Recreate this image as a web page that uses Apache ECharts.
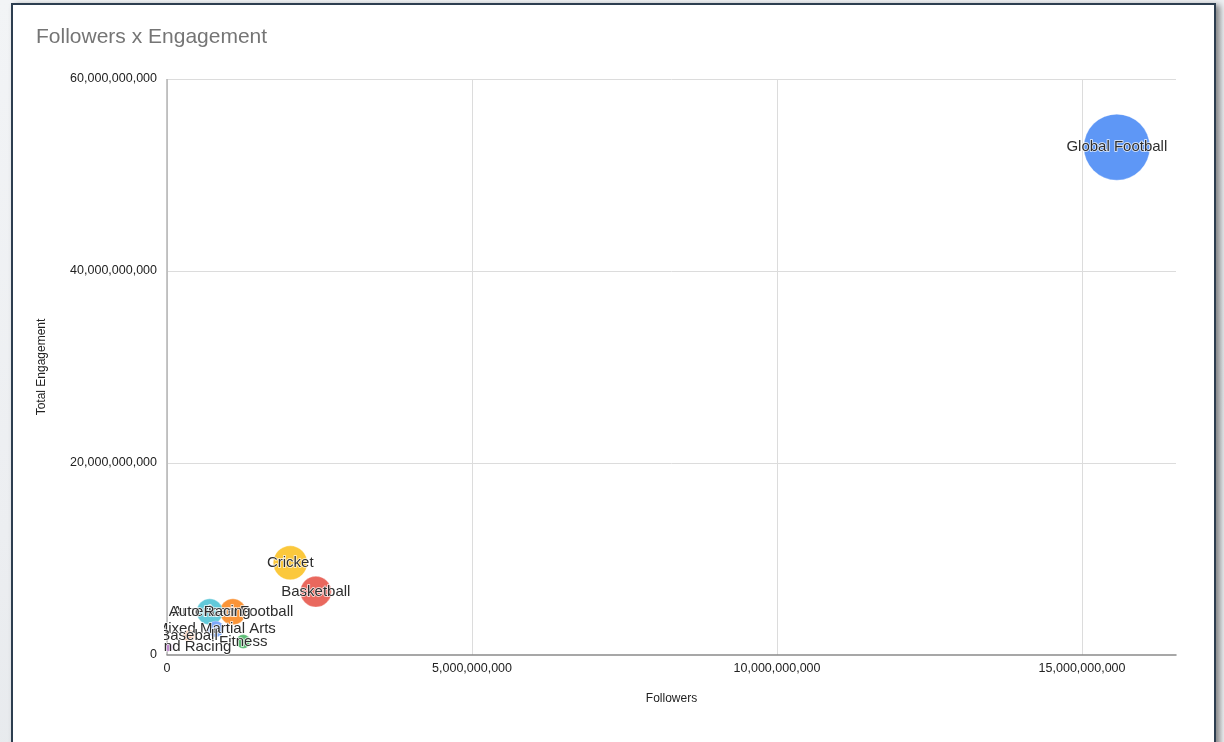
<!DOCTYPE html>
<html>
<head>
<meta charset="utf-8">
<title>Followers x Engagement</title>
<script src="https://cdn.jsdelivr.net/npm/echarts@6/dist/echarts.min.js"></script>
<style>
  html, body { margin: 0; padding: 0; width: 1224px; height: 742px; overflow: hidden; }
  body {
    background: linear-gradient(160deg, #f2f4f6 0%, #eceef1 45%, #e6e9ec 70%, #f0f2f4 100%);
    position: relative;
  }
  #card {
    position: absolute; left: 11px; top: 3px; width: 1201px; height: 780px;
    background: #ffffff; border: 2.5px solid #2d3e50;
    box-shadow: 4px 2px 6px rgba(0, 0, 0, 0.45);
  }
  #chart { position: absolute; left: 0; top: 0; width: 1224px; height: 742px; }
</style>
</head>
<body>
<div id="card"></div>
<div id="chart"></div>
<script>
// Sports categories plotted by follower count vs. total engagement
// (later entries are drawn on top)
const sports = [
  'Global Football', 'Cricket', 'Basketball', 'American Football', 'Auto Racing',
  'Mixed Martial Arts', 'Baseball', 'Fitness', 'Greyhound Racing'
];
const followers = [
  15.57e9, 2.02e9, 2.44e9, 1.08e9, 0.70e9,
  0.80e9, 0.36e9, 1.25e9, 0.03e9
];
const engagement = [
  52.9e9, 9.6e9, 6.6e9, 4.5e9, 4.5e9,
  2.7e9, 2.0e9, 1.4e9, 0.8e9
];
// relative audience weight, drives bubble area
const audience = [100, 26.5, 22, 15.5, 15.5, 6, 3.3, 4.5, 1.5];
const bubbleColors = [
  '#5e97f6', '#fbc83c', '#e9685e', '#fa9438', '#62c9d9',
  '#7ea9f9', '#f7b792', '#5fbe78', '#c28ad0'
];
const yTicks = [0, 20e9, 40e9, 60e9];
const xTicks = [0, 5e9, 10e9, 15e9];

const fontFamily = 'Arial, "Liberation Sans", sans-serif';
const fmt = v => Math.round(v).toLocaleString('en-US');

const points = sports.map((name, i) => ({
  name,
  value: [followers[i], engagement[i], audience[i]],
  itemStyle: { color: bubbleColors[i] }
}));

const chart = echarts.init(document.getElementById('chart'), null, { renderer: 'canvas' });
chart.setOption({
  backgroundColor: 'transparent',
  animation: false,
  title: {
    text: 'Followers x Engagement',
    left: 36, top: 27, padding: 0,
    textStyle: { fontFamily, fontSize: 21, fontWeight: 'normal', color: '#757575' }
  },
  grid: { left: 167, right: 48, top: 79, bottom: 87, containLabel: false },
  xAxis: {
    type: 'value',
    min: xTicks[0], max: 16.54e9, interval: xTicks[1] - xTicks[0],
    name: 'Followers', nameLocation: 'middle', nameGap: 38,
    nameTextStyle: { fontFamily, fontSize: 12, color: '#222' },
    axisLine: { show: true, lineStyle: { color: '#8a8a8a', width: 1.5 } },
    axisTick: { show: false },
    axisLabel: { fontFamily, fontSize: 12.5, color: '#222', margin: 7, showMaxLabel: false, formatter: fmt },
    splitLine: { show: true, showMaxLine: false, lineStyle: { color: '#dcdcdc', width: 1 } }
  },
  yAxis: {
    type: 'value',
    z: 60,
    min: yTicks[0], max: yTicks[yTicks.length - 1], interval: yTicks[1] - yTicks[0],
    name: 'Total Engagement', nameLocation: 'middle', nameGap: 119, nameRotate: 90,
    nameTextStyle: { fontFamily, fontSize: 12, color: '#222' },
    axisLine: { show: false },
    axisTick: { show: false },
    axisLabel: { fontFamily, fontSize: 12.5, color: '#222', margin: 10, formatter: fmt },
    splitLine: { show: false }
  },
  // gridlines and the vertical axis line sit underneath the bubbles
  series: [{
    type: 'scatter',
    data: points,
    symbolSize: d => 66 * Math.sqrt(d[2] / 100),
    itemStyle: { opacity: 1, borderColor: 'rgba(255,255,255,0.6)', borderWidth: 0.5 },
    label: {
      show: true, position: 'inside',
      formatter: p => p.name,
      fontFamily, fontSize: 15, color: '#2e2e2e',
      textBorderColor: 'rgba(255,255,255,0.85)', textBorderWidth: 1.5
    },
    labelLayout: { hideOverlap: false },
    markLine: {
      silent: true, symbol: 'none', label: { show: false }, animation: false,
      data: yTicks.slice(1).map(v => ({ yAxis: v, lineStyle: { color: '#dcdcdc', width: 1, type: 'solid' } }))
        .concat([{ xAxis: 0, lineStyle: { color: '#b4b4b4', width: 1.5, type: 'solid' } }]),
      z: 0
    }
  }],
  // labels are cut off at the plot's left edge
  graphic: [
    { type: 'rect', left: 100, top: 585, z: 50, shape: { width: 64, height: 78 }, style: { fill: '#ffffff' } }
  ]
});
</script>
</body>
</html>
